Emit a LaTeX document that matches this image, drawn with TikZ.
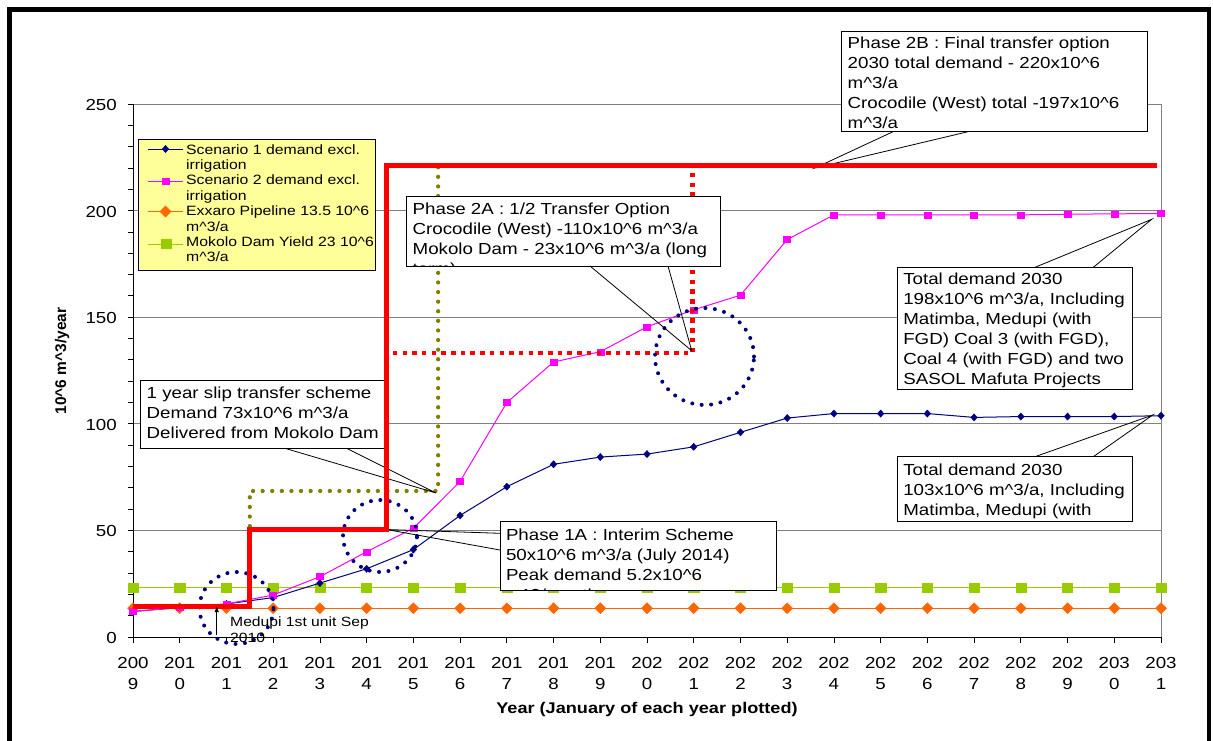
\documentclass[tikz,border=0pt]{standalone}
\usepackage{fontspec}
\setmainfont{Liberation Sans}[FakeStretch=1.17]
\newfontfamily\ytfont{Liberation Sans}
\usetikzlibrary{plotmarks,arrows.meta}
\definecolor{navyc}{HTML}{000080}
\definecolor{magc}{HTML}{FF00FF}
\definecolor{orc}{HTML}{FF6600}
\definecolor{grc}{HTML}{99CC00}
\definecolor{olc}{HTML}{808000}
\definecolor{legy}{HTML}{FFFF99}
\definecolor{gridc}{HTML}{808080}
\newcommand\crt{\textasciicircum}
\newcommand\fcall{\fontsize{16}{20}\selectfont}
\newcommand\fleg{\fontsize{13.5}{15.4}\selectfont}
\newcommand\ftick{\fontsize{16}{21}\selectfont}
\newcommand\fmed{\fontsize{13.4}{16}\selectfont}
\newcommand\ftitle{\fontsize{15.5}{18}\selectfont\bfseries}
\tikzset{
  gridline/.style={draw=gridc, line width=0.9pt},
  axisline/.style={draw=black, line width=1pt},
  cbox/.style={draw=black, fill=white, line width=0.8pt, inner sep=0pt, outer sep=0pt, anchor=north west},
  ctext/.style={inner sep=0pt, anchor=north west, align=left, font=\fcall},
  cline/.style={draw=black, line width=0.8pt},
  sone/.style={draw=navyc, line width=1pt, mark=diamond*, mark size=3.6pt, mark options={fill=navyc, draw=navyc, line width=0.4pt, xscale=1.22}},
  stwo/.style={draw=magc, line width=1pt, mark=square*, mark size=3pt, mark options={fill=magc, draw=magc, line width=0.4pt, xscale=1.17}},
  sthree/.style={draw=orc, line width=1.3pt, mark=diamond*, mark size=5.5pt, mark options={fill=orc, draw=orc, line width=0.4pt, xscale=1.33}},
  sfour/.style={draw=grc, line width=1pt, mark=square*, mark size=4.4pt, mark options={fill=grc, draw=grc, line width=0.4pt, xscale=1.15}},
  olivedots/.style={draw=olc, line width=4.3pt, line cap=round, dash pattern=on 0pt off 9.6pt},
  reddots/.style={draw=red, line width=4.5pt, dash pattern=on 4.5pt off 5.2pt},
  redstep/.style={draw=red, line width=5pt, line join=miter},
  navydots/.style={draw=navyc, line width=4pt, line cap=round, dash pattern=on 0pt off 9.5pt}
}
\newcommand\mkcallout[7]{%
  \node[cbox, minimum width=#4pt, minimum height=#5pt] (#1) at (#2,#3) {};
  \begin{scope}
    \clip (#1.north west) rectangle (#1.south east);
    \node[ctext] (#1t) at ([xshift=5.8pt, yshift=-#6pt]#1.north west) {#7};
  \end{scope}}
\begin{document}
\begin{tikzpicture}[x=1pt, y=-1pt]
\useasboundingbox (0,0) rectangle (1213,740);
\fill[white] (0,0) rectangle (1213,740);

% ---------- data scope ----------
\begin{scope}[shift={(133,637)}, x=46.727pt, y=2.132pt]
  \foreach \v in {50,100,...,250} {\draw[gridline] (0,\v) -- (22,\v);}
  \draw[gridline] (22,0) -- (22,250);
  \draw[axisline] (0,0) -- (22,0);
  \draw[axisline] (0,0) -- (0,250);
  \foreach \v in {0,10,...,250} {\draw[black, line width=0.8pt] (0,\v) -- ++(-5.5pt,0);}
  \foreach \v in {0,50,...,250} {\node[anchor=base east, font=\ftick, inner sep=0pt] (yl\v) at ([xshift=-16pt, yshift=-6.5pt]0,\v) {\v};}
  \foreach \i in {0,...,22} {
    \draw[black, line width=0.8pt] (\i,0) -- ++(0,-6pt);
    \pgfmathtruncatemacro\ya{int((2009+\i)/10)}
    \pgfmathtruncatemacro\yb{mod(2009+\i,10)}
    \node[anchor=north, align=center, font=\ftick, inner sep=0pt] (xl\i) at ([yshift=-16.3pt]\i,0) {\strut\ya\\\yb};
  }
  % series
  \draw[sfour] plot coordinates {(0,23) (1,23) (2,23) (3,23) (4,23) (5,23) (6,23) (7,23) (8,23) (9,23) (10,23) (11,23) (12,23) (13,23) (14,23) (15,23) (16,23) (17,23) (18,23) (19,23) (20,23) (21,23) (22,23)};
  \draw[sthree] plot coordinates {(0,13.5) (1,13.5) (2,13.5) (3,13.5) (4,13.5) (5,13.5) (6,13.5) (7,13.5) (8,13.5) (9,13.5) (10,13.5) (11,13.5) (12,13.5) (13,13.5) (14,13.5) (15,13.5) (16,13.5) (17,13.5) (18,13.5) (19,13.5) (20,13.5) (21,13.5) (22,13.5)};
  \draw[sone] plot coordinates {(0,12) (1,13.8) (2,15.5) (3,18.5) (4,25.3) (5,32) (6,41) (7,57) (8,70.5) (9,81) (10,84.4) (11,85.8) (12,89.2) (13,96) (14,102.7) (15,104.8) (16,104.8) (17,104.8) (18,103) (19,103.4) (20,103.4) (21,103.4) (22,103.8)};
  \draw[stwo] plot coordinates {(0,12) (1,13.8) (2,15.5) (3,19.7) (4,28.3) (5,40) (6,51) (7,73) (8,110) (9,129) (10,133.8) (11,145.5) (12,153.5) (13,160.3) (14,186.4) (15,198) (16,198) (17,198) (18,198) (19,198) (20,198.3) (21,198.5) (22,198.6)};
  % olive dotted and red dotted paths
  \draw[olivedots] (2.5,52) -- (2.5,68.5) -- (6.53,68.5) -- (6.53,221.4);
  \draw[reddots] (5.56,133.1) -- (11.97,133.1) -- (11.97,219.3);
\end{scope}

% dotted circles
\draw[navydots] (236.5,608) circle [x radius=37pt, y radius=36pt];
\draw[navydots] (380,536) circle [x radius=37pt, y radius=36pt];
\draw[navydots] (704.5,356.5) circle [x radius=49.5pt, y radius=48.5pt];

% ---------- callouts ----------
\mkcallout{ptwob}{841.7}{31.7}{305.3}{100}{2.6}{\strut Phase 2B : Final transfer option\\2030 total demand - 220x10\crt 6\\m\crt 3/a\\Crocodile (West) total -197x10\crt 6\\m\crt 3/a}
\coordinate (ptwobtip) at (815,168);
\draw[cline] ([xshift=51.3pt]ptwob.south west) -- (ptwobtip) -- ([xshift=126.3pt]ptwob.south west);

\mkcallout{ptwoa}{406.7}{196.7}{313.3}{69.3}{3.3}{\strut Phase 2A : 1/2 Transfer Option\\Crocodile (West) -110x10\crt 6 m\crt 3/a\\Mokolo Dam - 23x10\crt 6 m\crt 3/a (long\\term)}
\coordinate (ptwoatip) at (691.7,350.7);
\draw[cline] ([xshift=183.3pt]ptwoa.south west) -- (ptwoatip) -- ([xshift=261.3pt]ptwoa.south west);

\mkcallout{slip}{140.7}{380.7}{247.3}{67.6}{3.6}{\strut 1 year slip transfer scheme\\Demand 73x10\crt 6 m\crt 3/a\\Delivered from Mokolo Dam}
\coordinate (sliptip) at (436,493);
\draw[cline] ([xshift=144.3pt]slip.south west) -- (sliptip) -- ([xshift=206pt]slip.south west);

\mkcallout{ponea}{500}{521.7}{276}{68.3}{4.3}{\strut Phase 1A : Interim Scheme\\50x10\crt 6 m\crt 3/a (July 2014)\\Peak demand 5.2x10\crt 6\\m\crt 3/month}
\coordinate (poneatip) at (386.5,529.5);
\draw[cline] ([yshift=-11.6pt]ponea.north west) -- (poneatip) -- ([yshift=-28.3pt]ponea.north west);

\mkcallout{tdtwo}{897.3}{267.3}{235}{122}{2.7}{\strut Total demand 2030\\198x10\crt 6 m\crt 3/a, Including\\Matimba, Medupi (with\\FGD) Coal 3 (with FGD),\\Coal 4 (with FGD) and two\\SASOL Mafuta Projects}
\coordinate (tdtwotip) at (1151.7,219.3);
\draw[cline] ([xshift=137.7pt]tdtwo.north west) -- (tdtwotip) -- ([xshift=196pt]tdtwo.north west);

\mkcallout{tdone}{897.3}{456.7}{235}{65}{4.3}{\strut Total demand 2030\\103x10\crt 6 m\crt 3/a, Including\\Matimba, Medupi (with}
\coordinate (tdonetip) at (1152.7,415);
\draw[cline] ([xshift=137.7pt]tdone.north west) -- (tdonetip) -- ([xshift=196pt]tdone.north west);

% ---------- red solid step ----------
\begin{scope}[shift={(133,637)}, x=46.727pt, y=2.132pt]
  \draw[redstep] (0,14.5) -- (2.5,14.5) -- (2.5,50.5) -- (5.42,50.5) -- (5.42,221) -- (21.91,221);
\end{scope}

% ---------- legend ----------
\node[draw=black, fill=legy, line width=0.8pt, minimum width=237.4pt, minimum height=130.7pt, anchor=north west, inner sep=0pt, outer sep=0pt] (leg) at (138.3,139.3) {};
\draw[navyc, line width=1pt] (148,149) -- (183,149);
\path[sone] plot coordinates {(165.5,149)};
\draw[magc, line width=1pt] (148,181) -- (183,181);
\path[stwo] plot coordinates {(165.5,181)};
\draw[orc, line width=1.3pt] (148,211.5) -- (183,211.5);
\path[sthree] plot coordinates {(165.5,211.5)};
\draw[grc, line width=1pt] (148,244) -- (183,244);
\path[sfour] plot coordinates {(166,244)};
\node[font=\fleg, anchor=north west, align=left, inner sep=0pt] (legt) at (186,143.2) {\strut Scenario 1 demand excl.\\irrigation\\Scenario 2 demand excl.\\irrigation\\Exxaro Pipeline 13.5 10\crt 6\\m\crt 3/a\\Mokolo Dam Yield 23 10\crt 6\\m\crt 3/a};

% ---------- Medupi note ----------
\coordinate (medA) at (216.7,635);
\coordinate (medB) at (216.7,606);
\draw[black, line width=0.8pt, -{Latex[length=6pt, width=4.5pt]}] (medA) -- (medB);
\node[font=\fmed, anchor=north west, align=left, inner sep=0pt] (med) at (230,615.5) {\strut Medupi 1st unit Sep\\2010};

% ---------- axis titles ----------
\node[font=\ftitle, anchor=base] (xtitle) at (647,713) {Year (January of each year plotted)};
\node[font={\ytfont\fontsize{15.5}{18}\selectfont\bfseries}, rotate=90] (ytitle) at (62,361) {10\crt 6 m\crt 3/year};

% ---------- outer frame ----------
\draw[black, line width=4.4pt] (9.5,760) -- (9.5,9.5) -- (1208.7,9.5) -- (1208.7,760);
\end{tikzpicture}
\end{document}
